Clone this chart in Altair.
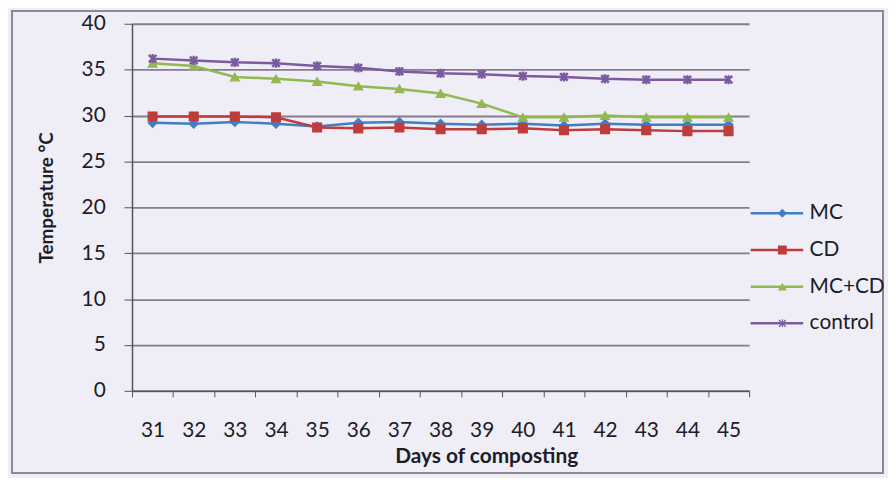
import altair as alt
import pandas as pd

days = [str(d) for d in range(31, 46)]
mc = [29.2, 29.1, 29.3, 29.1, 28.8, 29.2, 29.3, 29.1, 29.0, 29.1, 28.9, 29.1, 29.0, 29.0, 29.0]
cd = [29.9, 29.9, 29.9, 29.8, 28.7, 28.6, 28.7, 28.5, 28.5, 28.6, 28.4, 28.5, 28.4, 28.3, 28.3]
mccd = [35.7, 35.4, 34.2, 34.0, 33.7, 33.2, 32.9, 32.4, 31.3, 29.8, 29.8, 30.0, 29.8, 29.8, 29.8]
control = [36.2, 36.0, 35.8, 35.7, 35.4, 35.2, 34.8, 34.6, 34.5, 34.3, 34.2, 34.0, 33.9, 33.9, 33.9]

series = ["MC", "CD", "MC+CD", "control"]
colors = ["#3f7fc4", "#be3c3c", "#93b850", "#7b5aa0"]
# filled "x with vertical bar" marker (Excel-like star)
star = ("M-0.644,-0.856L0.856,0.644L0.644,0.856L-0.856,-0.644Z"
        "M0.644,-0.856L0.856,-0.644L-0.644,0.856L-0.856,0.644Z"
        "M-0.12,-0.9L0.12,-0.9L0.12,0.9L-0.12,0.9Z")
shapes = ["diamond", "square", "triangle-up", star]

rows = []
for name, vals in zip(series, [mc, cd, mccd, control]):
    for d, v in zip(days, vals):
        rows.append({"day": d, "temp": v, "series": name, "marker": name})
df = pd.DataFrame(rows)

font = "Lato"
txt = "#1c1c2a"

x_enc = alt.X("day:O", sort=days, scale=alt.Scale(paddingInner=0, paddingOuter=0),
              axis=alt.Axis(title="Days of composting", labelAngle=0, tickBand="extent",
                            labelFontSize=21, titleFontSize=21, titleFontWeight="bold",
                            labelColor=txt, titleColor=txt, labelFont=font, titleFont=font,
                            domainColor="#555", tickColor="#555", tickSize=6, labelPadding=23,
                            titlePadding=5, titleX=357, grid=False, domainWidth=1.5))
y_enc = alt.Y("temp:Q", scale=alt.Scale(domain=[0, 40]),
              axis=alt.Axis(title="Temperature °C", values=list(range(0, 41, 5)),
                            labelFontSize=21, titleFontSize=19, titleFontWeight="bold",
                            labelColor=txt, titleColor=txt, labelFont=font, titleFont=font,
                            domainColor="#555", tickColor="#555", tickSize=8, labelPadding=19,
                            titlePadding=25, titleY=175, gridColor="#857c92", gridWidth=1.8,
                            grid=True, domainWidth=1.5))

lines = alt.Chart(df).mark_line(strokeWidth=2.5).encode(
    x=x_enc, y=y_enc,
    stroke=alt.Stroke("series:N", sort=series,
                      scale=alt.Scale(domain=series, range=colors),
                      legend=alt.Legend(title=None, orient="none", legendX=622, legendY=180,
                                        labelFontSize=21, labelFont=font, labelColor=txt,
                                        symbolType="stroke", symbolSize=2800, symbolStrokeWidth=2.5,
                                        clipHeight=22, rowPadding=15, labelOffset=5)),
)

points = alt.Chart(df).mark_point(filled=True, size=80, strokeWidth=1.2, opacity=1).encode(
    x=x_enc, y=y_enc,
    fill=alt.Fill("marker:N", sort=series,
                  scale=alt.Scale(domain=series, range=colors),
                  legend=alt.Legend(title=None, orient="none", legendX=645, legendY=180,
                                    labelFontSize=21, labelFont=font, labelExpr="''",
                                    symbolSize=80, symbolStrokeWidth=0, symbolOpacity=1,
                                    clipHeight=22, rowPadding=15, labelOffset=5)),
    stroke=alt.Stroke("marker:N", sort=series,
                      scale=alt.Scale(domain=series, range=colors), legend=None),
    shape=alt.Shape("marker:N", sort=series,
                    scale=alt.Scale(domain=series, range=shapes)),
)

frame = alt.Chart(df).mark_rect(fill=None, stroke="#8c8794", strokeWidth=1.5, clip=False).encode(
    x=alt.value(-121), x2=alt.value(757), y=alt.value(-13), y2=alt.value(453),
)

chart = alt.layer(frame, lines, points).resolve_scale(stroke="independent").properties(
    width=622, height=370,
    background="#efedf5",
    padding={"left": 125, "top": 14, "right": 140, "bottom": 86},
    autosize=alt.AutoSizeParams(type="none"),
).configure_view(stroke=None)

chart.save("out.html", embed_options={"renderer": "svg", "actions": False})
